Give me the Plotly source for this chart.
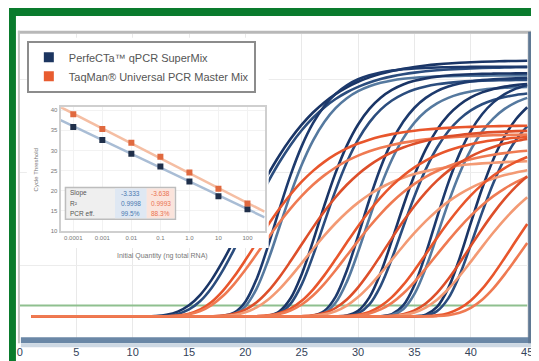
import numpy as np
import plotly.graph_objects as go

W, H = 539, 361
FONT = "Liberation Sans, Arial, sans-serif"

# ---------------- data: amplification curves ----------------
cycles = list(range(1, 46))
# PerfeCTa qPCR SuperMix curves: mid cycle, plateau fluorescence, spread
perfecta_mid = [19.8, 20.1, 22.6, 23.0, 26.4, 26.8, 30.2, 30.6, 33.3, 33.8, 36.7, 37.1, 39.8, 40.3]
perfecta_plateau = [1.18, 1.15, 1.15, 1.11, 1.12, 1.09, 1.10, 1.06, 1.08, 1.04, 1.10, 1.05, 1.08, 1.02]
perfecta_rate = [4.2, 4.0, 2.5, 2.6, 2.5, 2.6, 2.4, 2.5, 2.5, 2.6, 2.4, 2.5, 2.4, 2.5]
# TaqMan Universal PCR Master Mix curves
taqman_mid = [20.8, 21.3, 24.8, 25.3, 28.6, 29.1, 32.4, 33.0, 36.2, 36.8, 39.8, 40.4, 43.6, 44.4]
taqman_plateau = [0.88, 0.84, 0.86, 0.72, 0.84, 0.78, 0.85, 0.71, 0.82, 0.74, 0.84, 0.76, 0.86, 0.80]
taqman_rate = [4.0, 4.2, 4.0, 4.1, 4.0, 4.2, 3.9, 4.1, 4.0, 4.2, 3.9, 4.1, 4.0, 4.0]
threshold = 0.05
x_ticks = [0, 5, 10, 15, 20, 25, 30, 35, 40, 45]

# ---------------- data: inset standard curve ----------------
quantity = [0.0001, 0.001, 0.01, 0.1, 1.0, 10, 100]
quantity_labels = ["0.0001", "0.001", "0.01", "0.1", "1.0", "10", "100"]
ct_perfecta = [35.8, 32.6, 29.2, 26.0, 22.3, 18.6, 15.4]
ct_taqman = [39.0, 35.3, 31.9, 28.4, 24.5, 20.5, 16.8]
ct_ticks = [10, 15, 20, 25, 30, 35, 40]
table_rows = ["Slope", "R²", "PCR eff."]
table_perfecta = ["-3.333", "0.9998", "99.5%"]
table_taqman = ["-3.638", "0.9993", "88.3%"]

NAVY = ["#1a3566", "#2b4d7e", "#1d3a6d", "#55799f"]
ORANGE = ["#e8562c", "#ef7a52", "#dd4f2a", "#f39a74"]


def amp(c, mid, plateau, rate):
    c = np.asarray(c, dtype=float)
    return plateau * np.exp(-np.exp(-(c - mid) / rate))


fig = go.Figure()

# threshold line
fig.add_trace(go.Scatter(x=[0, 45], y=[threshold, threshold], mode="lines",
                         line=dict(color="#8fc08f", width=2), showlegend=False,
                         hoverinfo="skip"))

for i, (m, p, r) in enumerate(zip(perfecta_mid, perfecta_plateau, perfecta_rate)):
    fig.add_trace(go.Scatter(x=cycles, y=amp(cycles, m, p, r), mode="lines",
                             line=dict(color=NAVY[i % 4], width=2.6, shape="spline"),
                             showlegend=False, hoverinfo="skip"))
for i, (m, p, r) in enumerate(zip(taqman_mid, taqman_plateau, taqman_rate)):
    fig.add_trace(go.Scatter(x=cycles, y=amp(cycles, m, p, r), mode="lines",
                             line=dict(color=ORANGE[i % 4], width=2.6, shape="spline"),
                             showlegend=False, hoverinfo="skip"))

# legend entries
fig.add_trace(go.Scatter(x=[None], y=[None], mode="markers", name="PerfeCTa™ qPCR SuperMix",
                         marker=dict(symbol="square", size=10, color="#1c3560")))
fig.add_trace(go.Scatter(x=[None], y=[None], mode="markers", name="TaqMan® Universal PCR Master Mix",
                         marker=dict(symbol="square", size=10, color="#e85c30")))

# white cover for inset (subplot 2)
fig.add_trace(go.Scatter(x=[0, 1, 1, 0, 0], y=[0, 0, 1, 1, 0], fill="toself",
                         fillcolor="white", mode="lines", line=dict(width=0),
                         xaxis="x2", yaxis="y2", showlegend=False, hoverinfo="skip"))

# inset standard curves (subplot 3)
lq = np.log10(quantity)
xr = np.array([-4.44, 2.59])
for ct, fitc, mc in [(ct_perfecta, "#a9bdd5", "#1f2f4a"), (ct_taqman, "#f5bea3", "#e0693f")]:
    k, b = np.polyfit(lq, ct, 1)
    fig.add_trace(go.Scatter(x=10 ** xr, y=k * xr + b, mode="lines",
                             line=dict(color=fitc, width=2.5), xaxis="x3", yaxis="y3",
                             showlegend=False, hoverinfo="skip"))
    fig.add_trace(go.Scatter(x=quantity, y=ct, mode="markers",
                             marker=dict(symbol="square", size=6, color=mc),
                             xaxis="x3", yaxis="y3", showlegend=False, hoverinfo="skip"))


def px(x):
    return x / W


def py(y):
    return 1 - y / H


shapes = []


def rect(x0, y0, x1, y1, color, line=None, lw=0, layer="above"):
    shapes.append(dict(type="rect", xref="paper", yref="paper",
                       x0=px(x0), x1=px(x1), y0=py(y1), y1=py(y0),
                       fillcolor=color, line=dict(color=line or color, width=lw),
                       layer=layer))


# chart frame
rect(9, 23, 527, 26, "#b8b8b8")
rect(9, 23, 11, 338, "#c4c4c4")
rect(12, 332, 527, 338, "#6a87a6")
rect(12, 338, 530, 342, "#cdd8e3")
rect(524, 24, 529, 338, "#5f7893")
rect(529, 28, 533, 340, "#d6dbe0")
# inset table
rect(57, 181, 168, 213, "#efefef", line="#bdbdbd", lw=1.5)
rect(107, 182, 139, 212, "#dfe8f3")
rect(139, 182, 167, 212, "#fbe4dc")
# green border
rect(0, 0, 539, 8, "#0a7b2d")
rect(0, 0, 7, 361, "#0a7b2d")


def note(text, x, y, size, color, xanchor="center", angle=0):
    return dict(text=text, xref="paper", yref="paper", x=px(x), y=py(y),
                xanchor=xanchor, yanchor="middle", textangle=angle, showarrow=False,
                font=dict(size=size, color=color, family=FONT))


annotations = [
    note("Cycle Threshold", 27, 163, 6, "#777", angle=-90),
    note("Initial Quantity (ng total RNA)", 155, 250, 7, "#777"),
]
for i, (lab, v1, v2) in enumerate(zip(table_rows, table_perfecta, table_taqman)):
    yy = 187 + i * 10
    annotations.append(note(lab, 60, yy, 6.5, "#555", xanchor="left"))
    annotations.append(note(v1, 123, yy, 6.5, "#4a78b0"))
    annotations.append(note(v2, 153, yy, 6.5, "#ea7350"))

fig.update_layout(
    width=W, height=H, margin=dict(l=0, r=0, t=0, b=0),
    paper_bgcolor="white", plot_bgcolor="white",
    font=dict(family=FONT),
    xaxis=dict(domain=[px(9), px(525)], range=[-0.176, 45.17], tickvals=x_ticks,
               showgrid=True, gridcolor="#e9e9e9", zeroline=False, showline=False, ticks="",
               tickfont=dict(size=11, color="#34435a"), ticklabelstandoff=6),
    yaxis=dict(domain=[py(333), py(26)], range=[-0.1005, 1.3014], tickmode="array",
               tickvals=[0.233, 0.662, 1.091], showticklabels=False, showgrid=True,
               gridcolor="#ececec", zeroline=False, showline=False, ticks=""),
    xaxis2=dict(domain=[px(18), px(262)], range=[0, 1], visible=False, anchor="y2"),
    yaxis2=dict(domain=[py(242), py(30)], range=[0, 1], visible=False, anchor="x2"),
    xaxis3=dict(domain=[px(52), px(258)], type="log", range=[-4.44, 2.59], anchor="y3",
                tickvals=quantity, ticktext=quantity_labels, showline=True, mirror=True,
                linecolor="#cfcfcf", linewidth=2, showgrid=True, gridcolor="#f2f2f2",
                zeroline=False, ticks="", tickfont=dict(size=6, color="#777")),
    yaxis3=dict(domain=[py(225), py(100)], range=[9.95, 40.74], anchor="x3",
                tickvals=ct_ticks, showline=True, mirror=True, linecolor="#cfcfcf",
                linewidth=2, showgrid=True, gridcolor="#f2f2f2", zeroline=False, ticks="",
                tickfont=dict(size=6, color="#777")),
    legend=dict(x=px(18), y=py(33), xanchor="left", yanchor="top", bgcolor="white",
                bordercolor="#8c8c8c", borderwidth=2, font=dict(size=11, color="#555", family=FONT),
                itemclick=False),
    shapes=shapes, annotations=annotations,
)

fig.write_html("out.html")
